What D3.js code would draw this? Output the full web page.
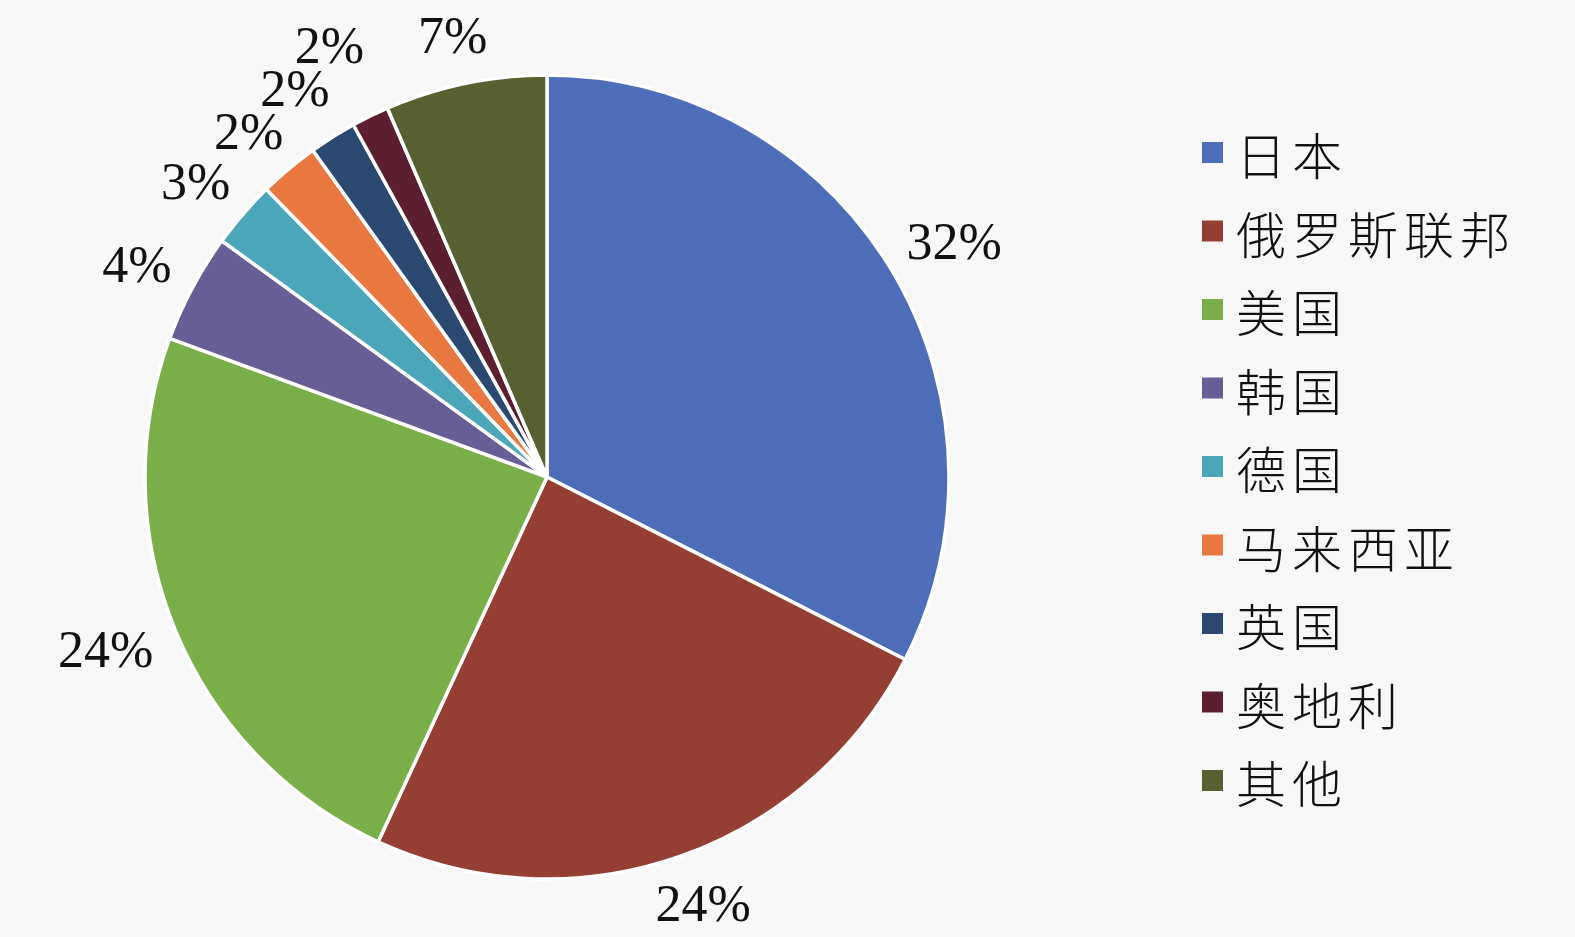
<!DOCTYPE html>
<html>
<head>
<meta charset="utf-8">
<script src="https://cdn.jsdelivr.net/npm/d3@7/dist/d3.min.js"></script>
<style>
  html, body { margin: 0; padding: 0; background: #f7f7f7; }
  svg { display: block; }
</style>
</head>
<body>
<svg id="chart" width="1575" height="937"></svg>
<script>
// ---- data ----
const categories = ["日本", "俄罗斯联邦", "美国", "韩国", "德国", "马来西亚", "英国", "奥地利", "其他"];
const shares = [32.5, 24.4, 23.7, 4.4, 2.7, 2.4, 1.9, 1.5, 6.5];
const labels = ["32%", "24%", "24%", "4%", "3%", "2%", "2%", "2%", "7%"];
const colors = ["#4E6DB8", "#953F34", "#79AE48", "#675E96", "#4BA6B9", "#E8783F", "#2B4870", "#5C1F30", "#566030"];

// ---- layout ----
const svg = d3.select("#chart");
svg.append("rect").attr("width", 1575).attr("height", 937).attr("fill", "#f7f7f7");

const cx = 547, cy = 477, r = 402, gap = 28;
const data = categories.map((c, i) => ({ name: c, value: shares[i], label: labels[i], color: colors[i] }));

const pie = d3.pie().sort(null).value(d => d.value);
const arcs = pie(data);
const arc = d3.arc().innerRadius(0).outerRadius(r);

const g = svg.append("g").attr("transform", `translate(${cx},${cy})`);
g.selectAll("path.slice")
  .data(arcs)
  .join("path")
  .attr("class", "slice")
  .attr("d", arc)
  .attr("fill", d => d.data.color)
  .attr("stroke", "#ffffff")
  .attr("stroke-width", 3.5)
  .attr("stroke-linejoin", "round");

// outside-end labels: box placed just outside the rim along the mid-angle,
// pushed outward if it collides with an earlier label
const texts = g.selectAll("text.pct")
  .data(arcs)
  .join("text")
  .attr("class", "pct")
  .attr("text-anchor", "middle")
  .attr("dominant-baseline", "central")
  .attr("font-family", "'Liberation Serif', 'Times New Roman', serif")
  .attr("font-size", 52)
  .attr("fill", "#111")
  .text(d => d.data.label);

const placed = [];
texts.each(function(d) {
  const bb = this.getBBox();
  const w = bb.width, h = 42;
  const a = (d.startAngle + d.endAngle) / 2;
  const ux = Math.sin(a), uy = -Math.cos(a);
  let rr = r + gap, x, y;
  for (let k = 0; k < 200; k++) {
    x = ux * rr + ux * w / 2;
    y = uy * rr + uy * h / 2;
    const hit = placed.some(p => Math.abs(p.x - x) < (p.w + w) / 2 - 4 && Math.abs(p.y - y) < (p.h + h) / 2);
    if (!hit) break;
    rr += 2;
  }
  placed.push({ x, y, w, h });
  d3.select(this).attr("transform", `translate(${x},${y})`);
});

// ---- legend ----
const legendY = d3.scalePoint().domain(categories).range([153, 781]);
const legend = svg.append("g");
const items = legend.selectAll("g.item")
  .data(data)
  .join("g")
  .attr("class", "item")
  .attr("transform", d => `translate(1202,${legendY(d.name)})`);
items.append("rect")
  .attr("x", 0).attr("y", -11)
  .attr("width", 21).attr("height", 21)
  .attr("fill", d => d.color);
items.append("text")
  .attr("x", 34).attr("y", 0)
  .attr("dominant-baseline", "central")
  .attr("font-family", "'Noto Sans CJK SC', sans-serif")
  .attr("font-weight", 300)
  .attr("font-size", 50)
  .attr("letter-spacing", 6)
  .attr("fill", "#111")
  .text(d => d.name);
</script>
</body>
</html>
